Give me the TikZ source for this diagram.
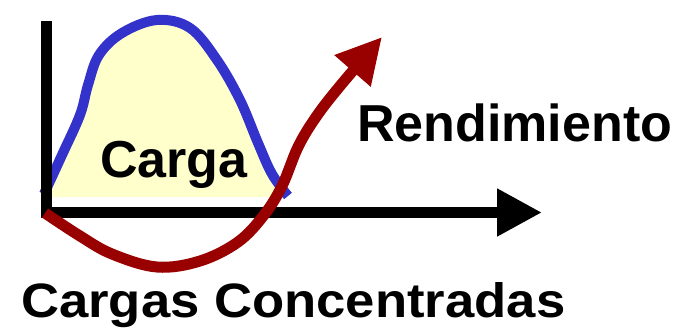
\documentclass[tikz,border=0pt]{standalone}
\usepackage{fontspec}
\setmainfont{Liberation Sans}
\usetikzlibrary{arrows.meta}
\definecolor{loadblue}{HTML}{3333CC}
\definecolor{loadfill}{HTML}{FFFFCC}
\definecolor{perfred}{HTML}{990000}
\tikzset{
  axisline/.style={line width=11pt, line join=miter, -{Triangle[length=45pt,width=45pt]}},
  loadcurve/.style={draw=loadblue, line width=10pt, line cap=butt, line join=round},
  perfcurve/.style={draw=perfred, line width=11pt, line join=round, -{Triangle[length=45pt,width=45pt]}},
  bigtext/.style={inner sep=0pt, font=\bfseries\fontsize{52}{60}\selectfont}
}
\begin{document}
\begin{tikzpicture}[x=1pt,y=-1pt]
\useasboundingbox (0,0) rectangle (690,330);
% load area
\fill[loadfill] plot[smooth, tension=0.6] coordinates {(44,194) (62,155) (80,115) (88,85) (99,55) (122,33) (157,20) (190,28) (217,60) (240,100) (258,143) (272,174) (288,196)} -- (288,197) -- (44,197) -- cycle;
\draw[loadcurve] plot[smooth, tension=0.6] coordinates {(44,194) (62,155) (80,115) (88,85) (99,55) (122,33) (157,20) (190,28) (217,60) (240,100) (258,143) (272,174) (288,196)};
% axes
\coordinate (ytop) at (46.5,21);
\coordinate (origin) at (46.5,212.5);
\coordinate (xend) at (542,212.5);
\draw[axisline] (ytop) -- (origin) -- (xend);
% performance curve
\coordinate (rstart) at (45,213);
\coordinate (rtip) at (382,37);
\draw[perfcurve] plot[smooth, tension=0.6] coordinates {(45,213) (80,236) (112,254) (157,267) (200,261) (238,242) (264,215) (282,186) (298,147) (316,117) (340,86) (382,37)};
% texts
\node[bigtext, anchor=base west] (carga) at (100,177) {Carga};
\node[bigtext, anchor=base west] (rend) at (357,141.7) {Rendimiento};
\node[inner sep=0pt, anchor=base west] (cc) at (21,317.3) {\scalebox{1.09}[1]{\bfseries\fontsize{48.3}{56}\selectfont Cargas Concentradas}};
\end{tikzpicture}
\end{document}
